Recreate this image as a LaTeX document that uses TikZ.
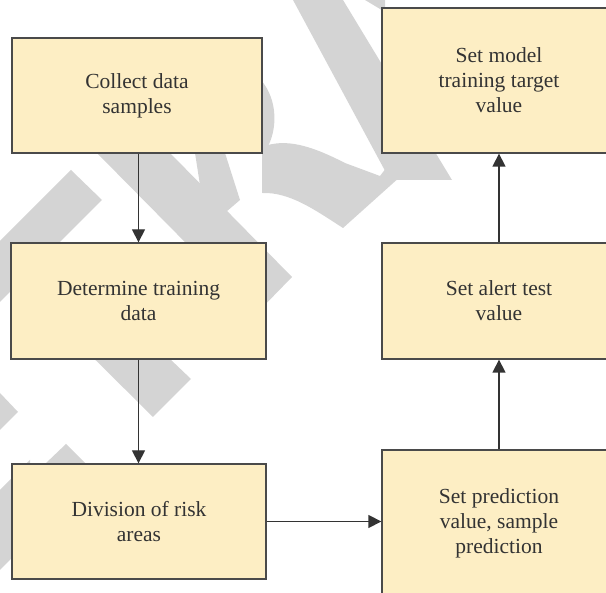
\documentclass[tikz,border=0pt]{standalone}
\usepackage{fontspec}
\setmainfont{Liberation Serif}
\usetikzlibrary{arrows.meta}
\definecolor{boxfill}{HTML}{FDEEC4}
\definecolor{boxline}{HTML}{4A4A4A}
\definecolor{ink}{HTML}{333333}
\definecolor{wmark}{HTML}{D4D4D4}
\tikzset{
  stepbox/.style={draw=boxline, line width=1.3pt, fill=boxfill, inner sep=0pt,
    align=center, text=ink, font=\fontsize{21.5pt}{25pt}\selectfont},
  arr/.style={draw=ink, line width=1.3pt, -{Triangle[length=13pt,width=13pt]}},
  wm/.style={fill=wmark, draw=none}
}
\begin{document}
\begin{tikzpicture}[x=1pt,y=-1pt]
\useasboundingbox (0,0) rectangle (606,593);
\clip (0,0) rectangle (606,593);
% watermark fragments
\fill[wm] (0,241) -- (71,170) -- (102,200) -- (0,302) -- cycle;
\fill[wm] (97,153) -- (170,153) -- (292,277) -- (256,314) -- cycle;
\fill[wm] (261,80) .. controls (278,100) and (278,130) .. (266,150) -- (255,150) -- cycle;
\fill[wm] (262,147) .. controls (285,138) and (310,145) .. (345,163) -- (380,176) -- (400,150) -- (430,150) -- (343,228)
  .. controls (315,210) and (290,192) .. (262,193) -- cycle;
\fill[wm] (195,153) -- (225,153) -- (240,200) -- (226,212) -- (200,185) -- cycle;
\fill[wm] (293,0) -- (343,0) -- (452,180) -- (390,180) -- cycle;
\fill[wm] (365,0) -- (385,0) -- (385,12) -- cycle;
\fill[wm] (60,300) -- (97,359) -- (170,359) -- (191,379) -- (153,417) -- (40,305) -- cycle;
\fill[wm] (0,393) -- (18,412) -- (0,430) -- cycle;
\fill[wm] (45,464) -- (66,444) -- (86,464) -- cycle;
\fill[wm] (0,490) -- (30,460) -- (30,540) -- (0,570) -- cycle;
% boxes
\node[stepbox, minimum width=250pt, minimum height=115pt] (collect) at (137,95.5) {Collect data\\samples};
\node[stepbox, minimum width=255pt, minimum height=116pt] (determine) at (138.5,301) {Determine training\\data};
\node[stepbox, minimum width=254pt, minimum height=115pt] (division) at (139,521.5) {Division of risk\\areas};
\node[stepbox, minimum width=234pt, minimum height=145pt] (target) at (499,80.5) {Set model\\training target\\value};
\node[stepbox, minimum width=234pt, minimum height=116pt] (alert) at (499,301) {Set alert test\\value};
\node[stepbox, minimum width=234pt, minimum height=146pt] (predict) at (499,523) {Set prediction\\value, sample\\prediction};
% connectors
\draw[arr] (collect.south -| determine.north) -- (determine.north);
\draw[arr] (determine.south) -- (determine.south |- division.north);
\draw[arr] (division.east) -- (division.east -| predict.west);
\draw[arr] (predict.north) -- (alert.south);
\draw[arr] (alert.north) -- (target.south);
\end{tikzpicture}
\end{document}
